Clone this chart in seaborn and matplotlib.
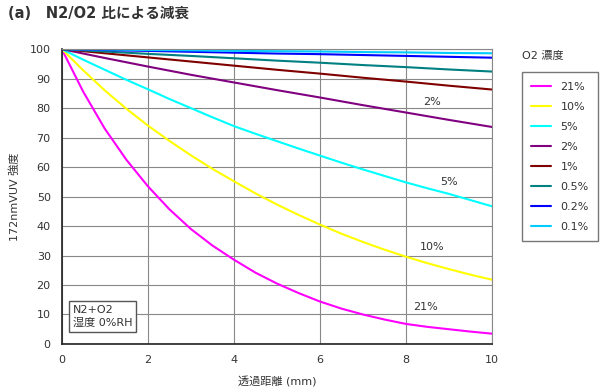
import numpy as np
import pandas as pd
import matplotlib
matplotlib.use("Agg")
import matplotlib.pyplot as plt
import seaborn as sns

# distance (mm) and intensity
dist_fine = [0, 0.5, 1, 1.5, 2, 2.5, 3, 3.5, 4, 4.5, 5, 5.5, 6, 6.5, 7, 7.5, 8, 8.5, 9, 9.5, 10]
dist = [0, 1, 2, 3, 4, 5, 6, 7, 8, 9, 10]
o2_levels = ["21%", "10%", "5%", "2%", "1%", "0.5%", "0.2%", "0.1%"]
i_21 = [100, 85.5, 73.0, 62.5, 53.5, 45.7, 39.0, 33.4, 28.6, 24.2, 20.5,
        17.3, 14.4, 12.0, 10.0, 8.3, 6.8, 5.8, 5.0, 4.2, 3.5]
i_10 = [100, 92.8, 86.0, 79.8, 74.1, 68.9, 64.0, 59.4, 55.2, 51.1, 47.3,
        43.8, 40.5, 37.4, 34.6, 32.0, 29.6, 27.4, 25.4, 23.5, 21.8]
i_5 = [100, 96.4, 93.0, 89.6, 86.4, 83.1, 80.0, 76.9, 73.9, 71.3, 68.8,
       66.3, 63.9, 61.5, 59.2, 57.0, 54.8, 52.8, 50.9, 48.8, 46.7]
i_2 = [100, 97.0, 94.1, 91.3, 88.7, 86.1, 83.6, 81.0, 78.5, 76.0, 73.6]
i_1 = [100, 98.6, 97.2, 95.8, 94.4, 93.0, 91.7, 90.3, 89.0, 87.6, 86.3]
i_05 = [100, 99.2, 98.4, 97.7, 96.9, 96.1, 95.4, 94.6, 93.9, 93.1, 92.4]
i_02 = [100, 99.7, 99.4, 99.1, 98.8, 98.5, 98.3, 98.0, 97.7, 97.4, 97.1]
i_01 = [100, 99.9, 99.7, 99.6, 99.4, 99.3, 99.2, 99.0, 98.9, 98.7, 98.6]
series = [i_21, i_10, i_5, i_2, i_1, i_05, i_02, i_01]
series_x = [dist_fine, dist_fine, dist_fine, dist, dist, dist, dist, dist]
colors = ["#ff00ff", "#ffff00", "#00ffff", "#800080", "#800000", "#008080", "#0000ff", "#00ccff"]

# inline curve labels
curve_labels = ["2%", "5%", "10%", "21%"]
label_x = [8.6, 9.0, 8.6, 8.45]
label_y = [82.0, 55.0, 33.0, 12.6]

frames = []
for lvl, xs, ys in zip(o2_levels, series_x, series):
    frames.append(pd.DataFrame({"distance": xs, "intensity": ys, "o2": lvl}))
df = pd.concat(frames, ignore_index=True)

sns.set_style("white")
plt.rcParams['font.family'] = ['DejaVu Sans', 'Noto Sans CJK JP']
plt.rcParams['font.size'] = 8

fig = plt.figure(figsize=(6, 3.9), dpi=100)
ax = fig.add_axes([0.103, 0.118, 0.717, 0.756])

sns.lineplot(data=df, x="distance", y="intensity", hue="o2", hue_order=o2_levels,
             palette=colors, linewidth=1.5, ax=ax, legend=False)

ax.set_xlim(0, 10)
ax.set_ylim(0, 100)
ax.set_xticks(range(0, 11, 2))
ax.set_yticks(range(0, 101, 10))
ax.grid(True, color="#888888", linewidth=0.8)
ax.set_axisbelow(True)
ax.tick_params(length=0, pad=8, labelcolor="#333333", labelsize=8)
for side in ["top", "right"]:
    ax.spines[side].set_color("#888888")
for side in ["left", "bottom"]:
    ax.spines[side].set_color("#222222")
    ax.spines[side].set_linewidth(1.2)

ax.set_xlabel("透過距離 (mm)", color="#333333", fontsize=8, labelpad=8)
ax.set_ylabel("172nmVUV 強度", color="#333333", fontsize=8, labelpad=7)

for txt, lx, ly in zip(curve_labels, label_x, label_y):
    ax.text(lx, ly, txt, color="#333333", fontsize=8, ha="center", va="center")

ax.text(0.25, 5.3, "N2+O2\n湿度 0%RH", color="#333333", fontsize=8, ha="left", va="bottom",
        linespacing=1.35,
        bbox=dict(boxstyle="square,pad=0.35", facecolor="white", edgecolor="#555555", linewidth=1))

handles = [plt.Line2D([], [], color=c, linewidth=1.5) for c in colors]
leg = fig.legend(handles, o2_levels, loc="upper left", bbox_to_anchor=(0.87, 0.815),
                 borderaxespad=0, frameon=True, fancybox=False, edgecolor="#555555", fontsize=8,
                 handlelength=1.8, handletextpad=0.8, labelspacing=0.9, borderpad=0.85)
leg.get_frame().set_linewidth(1)
for t in leg.get_texts():
    t.set_color("#333333")
fig.text(0.87, 0.86, "O2 濃度", color="#333333", fontsize=8, ha="left", va="center")

fig.text(0.013, 0.965, "(a)\u3000N2/O2 比による減衰", color="#333333", fontsize=10.5,
         fontweight="bold", ha="left", va="center")

fig.savefig("out.png", dpi=100)
